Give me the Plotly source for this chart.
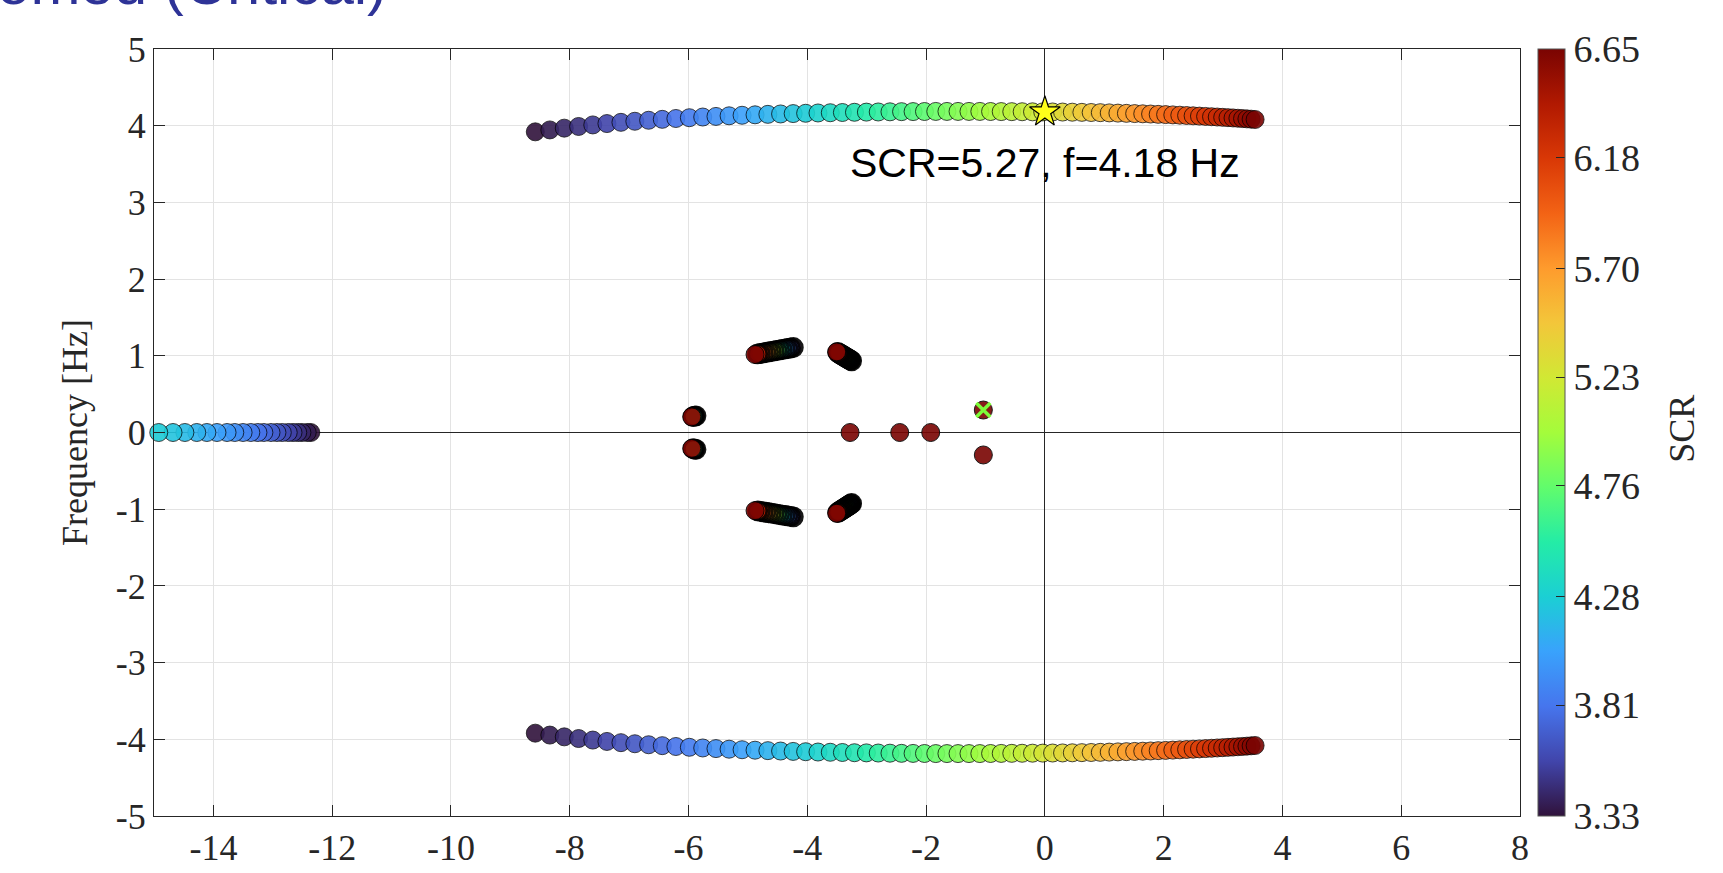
import plotly.graph_objects as go

# ---------------- data ----------------
scr = [3.330, 3.377, 3.424, 3.470, 3.517, 3.564, 3.611, 3.657, 3.704, 3.751,
       3.798, 3.844, 3.891, 3.938, 3.985, 4.031, 4.078, 4.125, 4.172, 4.218,
       4.265, 4.312, 4.359, 4.405, 4.452, 4.499, 4.546, 4.593, 4.639, 4.686,
       4.733, 4.780, 4.826, 4.873, 4.920, 4.966, 5.013, 5.060, 5.107, 5.153,
       5.200, 5.247, 5.294, 5.341, 5.387, 5.434, 5.481, 5.528, 5.574, 5.621,
       5.668, 5.715, 5.761, 5.808, 5.855, 5.902, 5.948, 5.995, 6.042, 6.089,
       6.135, 6.182, 6.229, 6.276, 6.322, 6.369, 6.416, 6.463, 6.509, 6.556,
       6.603, 6.650]

up_re = [-8.580, -8.335, -8.092, -7.851, -7.612, -7.374, -7.138, -6.904, -6.672, -6.442,
         -6.213, -5.986, -5.761, -5.538, -5.317, -5.098, -4.880, -4.664, -4.450, -4.238,
         -4.028, -3.820, -3.613, -3.409, -3.206, -3.005, -2.806, -2.608, -2.413, -2.219,
         -2.027, -1.837, -1.649, -1.462, -1.278, -1.095, -0.914, -0.735, -0.557, -0.382,
         -0.208, -0.036, 0.130, 0.298, 0.462, 0.623, 0.780, 0.934, 1.084, 1.230,
         1.373, 1.512, 1.648, 1.780, 1.908, 2.033, 2.154, 2.272, 2.386, 2.496,
         2.603, 2.706, 2.806, 2.902, 2.994, 3.083, 3.168, 3.250, 3.328, 3.402,
         3.473, 3.540]
up_im = [3.920, 3.945, 3.968, 3.990, 4.010, 4.028, 4.044, 4.058, 4.071, 4.083,
         4.094, 4.104, 4.113, 4.121, 4.129, 4.136, 4.142, 4.148, 4.153, 4.158,
         4.162, 4.166, 4.169, 4.172, 4.175, 4.177, 4.179, 4.181, 4.183, 4.184,
         4.185, 4.186, 4.186, 4.186, 4.186, 4.186, 4.185, 4.184, 4.183, 4.182,
         4.181, 4.180, 4.179, 4.178, 4.176, 4.174, 4.172, 4.170, 4.167, 4.164,
         4.161, 4.158, 4.155, 4.152, 4.148, 4.145, 4.141, 4.137, 4.133, 4.129,
         4.125, 4.121, 4.117, 4.113, 4.109, 4.105, 4.101, 4.097, 4.093, 4.089,
         4.085, 4.081]
lo_re = up_re
lo_im = [-3.920, -3.945, -3.968, -3.990, -4.010, -4.028, -4.044, -4.058, -4.071, -4.083,
         -4.094, -4.104, -4.113, -4.121, -4.129, -4.136, -4.142, -4.148, -4.153, -4.158,
         -4.162, -4.166, -4.169, -4.172, -4.175, -4.177, -4.179, -4.181, -4.183, -4.184,
         -4.185, -4.186, -4.186, -4.186, -4.186, -4.186, -4.185, -4.184, -4.183, -4.182,
         -4.181, -4.180, -4.179, -4.178, -4.176, -4.174, -4.172, -4.170, -4.167, -4.164,
         -4.161, -4.158, -4.155, -4.152, -4.148, -4.145, -4.141, -4.137, -4.133, -4.129,
         -4.125, -4.121, -4.117, -4.113, -4.109, -4.105, -4.101, -4.097, -4.093, -4.089,
         -4.085, -4.081]

# real-axis branch on the far left (visible part only)
left_re = [-12.36, -12.42, -12.51, -12.58, -12.66, -12.74, -12.84, -12.93, -13.03, -13.15,
           -13.25, -13.37, -13.50, -13.64, -13.77, -13.94, -14.11, -14.28, -14.48, -14.68,
           -14.92]
left_im = [0.0] * len(left_re)
left_scr = scr[:len(left_re)]

# slowly moving poles near the origin
cl_scr = [3.33, 3.57, 3.81, 4.04, 4.28, 4.52, 4.76, 4.99, 5.23, 5.47, 5.70, 5.94, 6.18, 6.41, 6.65]
ul_re = [-4.235, -4.281, -4.327, -4.373, -4.419, -4.465, -4.511, -4.558, -4.604, -4.650,
         -4.696, -4.742, -4.788, -4.834, -4.880]
ul_im = [1.108, 1.102, 1.095, 1.089, 1.082, 1.076, 1.069, 1.063, 1.056, 1.050,
         1.043, 1.037, 1.030, 1.024, 1.017]
ll_im = [-1.100, -1.094, -1.088, -1.082, -1.076, -1.070, -1.064, -1.058, -1.052, -1.046,
         -1.040, -1.034, -1.028, -1.023, -1.019]
ur_re = [-3.253, -3.271, -3.289, -3.307, -3.325, -3.343, -3.361, -3.379, -3.397, -3.415,
         -3.433, -3.451, -3.469, -3.487, -3.505]
ur_im = [0.934, 0.942, 0.951, 0.959, 0.967, 0.976, 0.984, 0.993, 1.001, 1.009,
         1.018, 1.026, 1.034, 1.043, 1.051]
lr_im = [-0.926, -0.935, -0.944, -0.953, -0.962, -0.971, -0.980, -0.989, -0.998, -1.007,
         -1.016, -1.025, -1.034, -1.043, -1.053]

pair_scr = [3.33, 4.44, 5.54, 6.65]
pair_re = [-5.874, -5.898, -5.922, -5.946]
pair_up_im = [0.217, 0.213, 0.208, 0.204]
pair_lo_im = [-0.221, -0.216, -0.212, -0.208]

single_re = [-3.280, -2.444, -1.922, -1.036, -1.036]
single_im = [0.0, 0.0, 0.0, 0.293, -0.293]
single_scr = [6.65, 6.65, 6.65, 6.65, 6.65]

crit_scr, crit_f, crit_re = 5.27, 4.18, 0.0
xmark_re, xmark_im = -1.036, 0.293

cbar_ticks = [3.33, 3.81, 4.28, 4.76, 5.23, 5.70, 6.18, 6.65]
x_ticks = [-14, -12, -10, -8, -6, -4, -2, 0, 2, 4, 6, 8]
y_ticks = [-5, -4, -3, -2, -1, 0, 1, 2, 3, 4, 5]

# ---------------- figure ----------------
SERIF = "Liberation Serif"
SANS = "Liberation Sans"
INK = "#262626"
CMIN, CMAX = 3.33, 6.65

fig = go.Figure()


def add_poles(re, im, s, lw=0.8, size=18, showscale=False):
    marker = dict(size=size, color=s, colorscale="Turbo", cmin=CMIN, cmax=CMAX,
                  opacity=0.9, line=dict(color="black", width=lw))
    if showscale:
        marker["showscale"] = True
        marker["colorbar"] = dict(
            thickness=27, thicknessmode="pixels", len=1, lenmode="fraction",
            y=0.5, yanchor="middle", x=1.0132, xanchor="left", xpad=0, ypad=0,
            outlinecolor="#555555", outlinewidth=1,
            tickvals=cbar_ticks, ticktext=[f"{v:.2f}" for v in cbar_ticks],
            ticks="inside", ticklen=9, tickcolor=INK,
            tickfont=dict(family=SERIF, size=38, color=INK),
        )
    fig.add_trace(go.Scatter(x=re, y=im, mode="markers", marker=marker,
                             cliponaxis=False, showlegend=False, hoverinfo="skip"))


# slowly moving clusters: dense heavy outlines, thin outline on the final (top) marker
smear_lw = [2.8] * (len(cl_scr) - 1) + [1.0]
pair_lw = [2.8] * (len(pair_scr) - 1) + [1.0]
add_poles(ul_re, ul_im, cl_scr, lw=smear_lw)
add_poles(ul_re, ll_im, cl_scr, lw=smear_lw)
add_poles(ur_re, ur_im, cl_scr, lw=smear_lw)
add_poles(ur_re, lr_im, cl_scr, lw=smear_lw)
add_poles(pair_re, pair_up_im, pair_scr, lw=pair_lw)
add_poles(pair_re, pair_lo_im, pair_scr, lw=pair_lw)
add_poles(single_re, single_im, single_scr, lw=1.0)

# main branches
add_poles(left_re, left_im, left_scr)
add_poles(lo_re, lo_im, scr)
add_poles(up_re, up_im, scr, showscale=True)

# critical point star
fig.add_trace(go.Scatter(x=[crit_re], y=[crit_f], mode="markers",
                         marker=dict(symbol="star", size=23, color="#ffff1a",
                                     line=dict(color="black", width=1.2)),
                         cliponaxis=False, showlegend=False, hoverinfo="skip"))
# green x
fig.add_trace(go.Scatter(x=[xmark_re], y=[xmark_im], mode="markers",
                         marker=dict(symbol="x-thin", size=14, color="#7dfc3a",
                                     line=dict(color="#7dfc3a", width=3.5)),
                         cliponaxis=False, showlegend=False, hoverinfo="skip"))

axis_common = dict(
    showgrid=True, gridcolor="#e3e3e3", gridwidth=1,
    zeroline=True, zerolinecolor=INK, zerolinewidth=1,
    showline=True, linecolor=INK, linewidth=1, mirror="ticks",
    ticks="inside", ticklen=11, tickwidth=1, tickcolor=INK,
    tickfont=dict(family=SERIF, size=36, color=INK),
    automargin=False,
)

fig.update_xaxes(range=[-15, 8], tickvals=x_ticks, ticktext=[str(v) for v in x_ticks],
                 **axis_common)
fig.update_yaxes(range=[-5, 5], tickvals=y_ticks, ticktext=[str(v) for v in y_ticks],
                 title=dict(text="Frequency [Hz]", font=dict(family=SERIF, size=36, color=INK),
                            standoff=17),
                 **axis_common)

fig.add_annotation(text=f"SCR={crit_scr:.2f}, f={crit_f:.2f} Hz", x=-3.31, y=3.51,
                   xref="x", yref="y", xanchor="left", yanchor="middle", showarrow=False,
                   font=dict(family=SANS, size=41, color="black"))
fig.add_annotation(text="SCR", textangle=-90, x=1.118, y=0.505, xref="paper", yref="paper",
                   xanchor="center", yanchor="middle", showarrow=False,
                   font=dict(family=SERIF, size=36, color=INK))
# page heading, cut off by the top edge as in the reference
fig.add_annotation(text="Zoomed (Critical)", x=0.172, y=1.0388, xref="paper", yref="paper",
                   xanchor="right", yanchor="bottom", showarrow=False,
                   font=dict(family=SANS, size=60, color="#2e3397"))

fig.update_layout(
    width=1723, height=873,
    margin=dict(l=154, r=203, t=49, b=57),
    paper_bgcolor="white", plot_bgcolor="white",
)

fig.write_html("out.html", config={"displayModeBar": False},
               post_script="document.body.style.margin='0';document.body.style.overflow='hidden';")
